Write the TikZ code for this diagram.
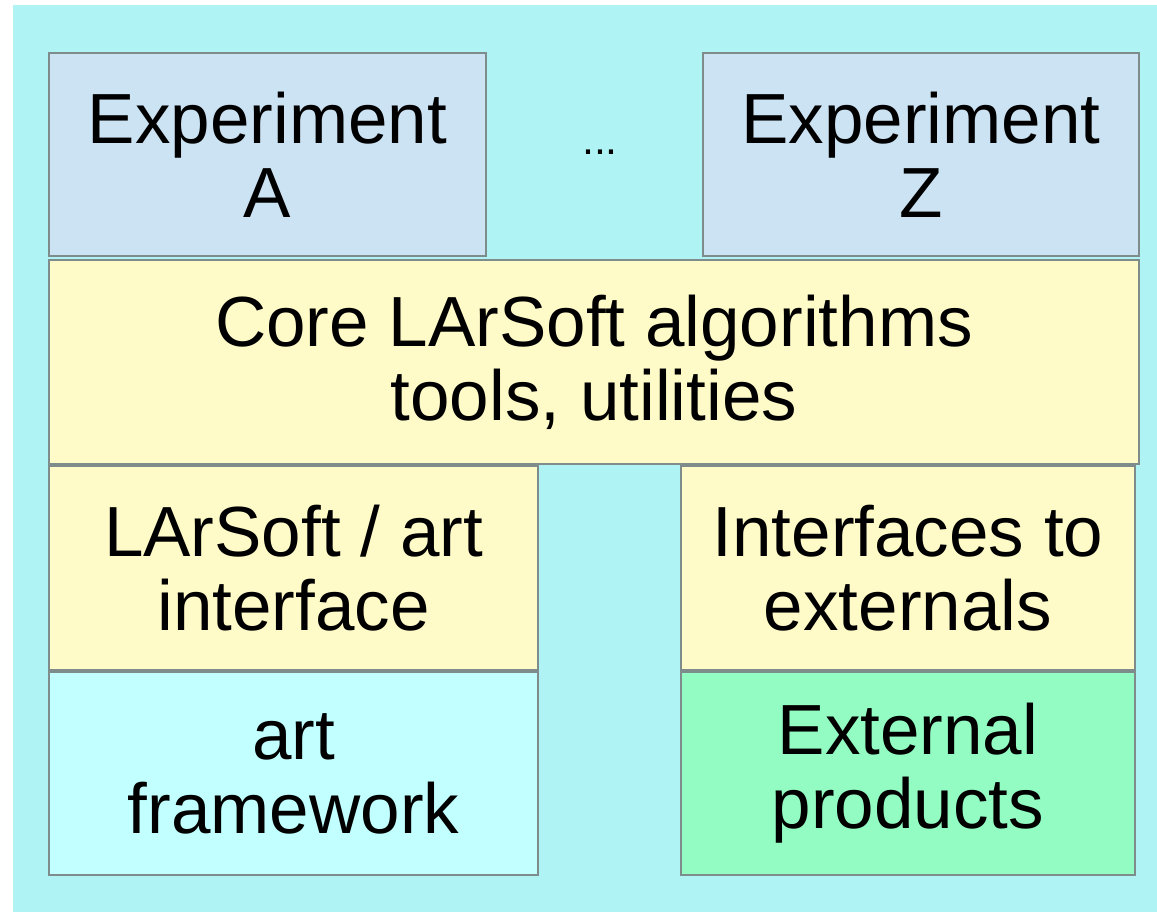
\documentclass[tikz,border=0pt]{standalone}
\usepackage{fontspec}
\setmainfont{Liberation Sans}
\definecolor{bgc}{HTML}{B0F3F4}
\definecolor{expc}{HTML}{CCE3F3}
\definecolor{yelc}{HTML}{FFFBC8}
\definecolor{artc}{HTML}{C2FFFF}
\definecolor{extc}{HTML}{93FCC3}
\definecolor{bordc}{HTML}{7E8C8C}
\begin{document}
\begin{tikzpicture}[x=1pt,y=-1pt,
  box/.style={draw=bordc, line width=2.8pt, inner sep=0pt, align=center,
    font=\fontsize{71}{74}\selectfont}]
\useasboundingbox (0,0) rectangle (1157,912);
\fill[bgc] (13,5) rectangle (1157,912);
\node[box, fill=expc, minimum width=437, minimum height=203] (expA) at (267.5,154.5) {Experiment\\A};
\node[box, fill=expc, minimum width=436, minimum height=203] (expZ) at (921,154.5) {Experiment\\Z};
\node[font=\fontsize{43}{43}\selectfont, anchor=base, inner sep=0pt] (dots) at (600,155) {...};
\node[box, fill=yelc, minimum width=1090, minimum height=204] (core) at (594,362) {Core LArSoft algorithms\\tools, utilities};
\node[box, fill=yelc, minimum width=489, minimum height=204] (lai) at (293.5,568) {LArSoft / art\\interface};
\node[box, fill=yelc, minimum width=454, minimum height=204] (ife) at (908,568) {Interfaces to\\externals};
\node[box, fill=artc, minimum width=489, minimum height=203] (artf) at (293.5,773.5) {art\\framework};
\node[box, fill=extc, minimum width=454, minimum height=203] (ext) at (908,773.5) {External\\products};
\end{tikzpicture}
\end{document}
